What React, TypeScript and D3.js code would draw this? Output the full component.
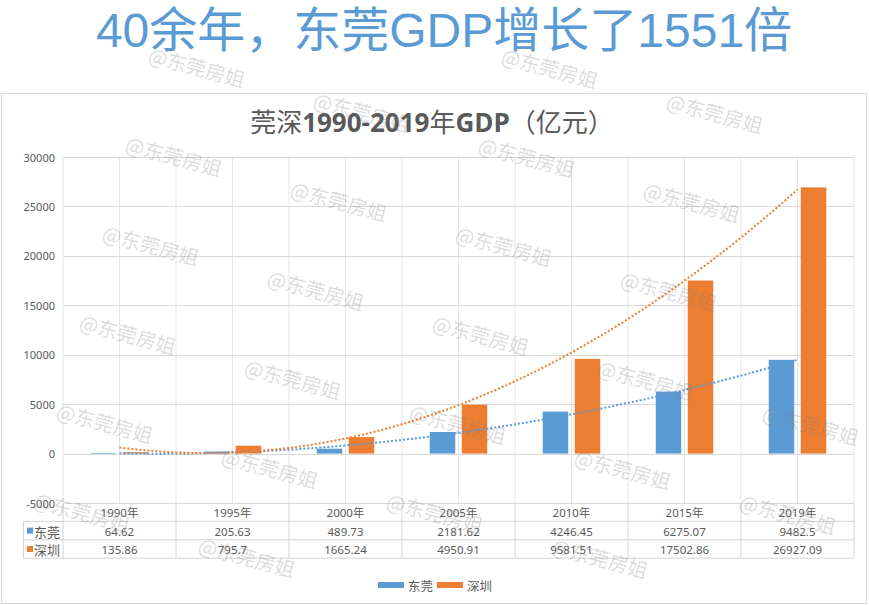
import React from 'react';
import * as d3 from 'd3';

const years = ['1990年', '1995年', '2000年', '2005年', '2010年', '2015年', '2019年'];
const dongguan = [64.62, 205.63, 489.73, 2181.62, 4246.45, 6275.07, 9482.5];
const shenzhen = [135.86, 795.7, 1665.24, 4950.91, 9581.51, 17502.86, 26927.09];
const dongguanLabels = ['64.62', '205.63', '489.73', '2181.62', '4246.45', '6275.07', '9482.5'];
const shenzhenLabels = ['135.86', '795.7', '1665.24', '4950.91', '9581.51', '17502.86', '26927.09'];
const seriesNames = ['东莞', '深圳'];
const seriesColors = ['#5B9BD5', '#ED7D31'];
const yTickValues = [-5000, 0, 5000, 10000, 15000, 20000, 25000, 30000];
const mainTitle = '40余年，东莞GDP增长了1551倍';
const chartTitleParts = [
  { t: '莞深', bold: false },
  { t: '1990-2019', bold: true },
  { t: '年', bold: false },
  { t: 'GDP', bold: true },
  { t: '（亿元）', bold: false },
];
const watermarkText = '@东莞房姐';

const W = 869;
const H = 605;
const plotLeft = 63;
const plotRight = 854;
const plotTop = 157;
const plotBottom = 503;
const rowH = 18.4;
const tableTop = plotBottom;
const keyLeft = 23;
const barW = 25.5;
const barOffset = 16;
const textColor = '#595959';
const font = "'Noto Sans', 'Noto Sans CJK SC', sans-serif";
const cjk = "'Noto Sans CJK SC', sans-serif";

function quadFit(ys: number[]) {
  const n = ys.length;
  const mean = (n + 1) / 2;
  let S2 = 0, S4 = 0, Sy = 0, Sty = 0, St2y = 0;
  ys.forEach((y, i) => {
    const t = i + 1 - mean;
    S2 += t * t;
    S4 += t * t * t * t;
    Sy += y;
    Sty += t * y;
    St2y += t * t * y;
  });
  const b = Sty / S2;
  const c = (n * St2y - S2 * Sy) / (n * S4 - S2 * S2);
  const a = (Sy - S2 * c) / n;
  return (x: number) => {
    const t = x - mean;
    return a + b * t + c * t * t;
  };
}

export default function App() {
  const x = d3.scaleBand<string>().domain(years).range([plotLeft, plotRight]).padding(0);
  const bw = x.bandwidth();
  const y = d3.scaleLinear().domain([-5000, 30000]).range([plotBottom, plotTop]);
  const center = (i: number) => (x(years[i]) as number) + bw / 2;
  const xIdx = d3.scaleLinear().domain([1, years.length]).range([center(0), center(years.length - 1)]);

  const series = [dongguan, shenzhen];
  const labels = [dongguanLabels, shenzhenLabels];

  const trendPaths = series.map((s) => {
    const f = quadFit(s);
    const pts = d3.range(1, years.length + 0.001, 0.05).map((v) => [xIdx(v), y(f(v))] as [number, number]);
    return d3.line()(pts) as string;
  });

  const vGrid = d3.range(0, years.length * 2 + 1).map((k) => plotLeft + (k * bw) / 2);

  // watermark lattice (only fully visible copies)
  const wmOrigin = [150, 45];
  const v1 = [165, 45];
  const v2 = [-23, 89];
  const wms: [number, number][] = [];
  for (let i = -4; i <= 7; i++) {
    for (let j = -3; j <= 9; j++) {
      const px = wmOrigin[0] + i * v1[0] + j * v2[0];
      const py = wmOrigin[1] + i * v1[1] + j * v2[1];
      if (px - 3 >= 0 && px + 100 <= W && py >= 6 && py + 48 <= H) wms.push([px, py]);
    }
  }

  return (
    <svg width={W} height={H} style={{ position: 'absolute', left: 0, top: 0, background: '#fff' }}>
      <rect x={0} y={0} width={W} height={H} fill="#fff" />
      {/* main title */}
      <text
        x={444}
        y={47}
        textAnchor="middle"
        fill="#5B9BD5"
        fontSize={48}
        fontFamily="'Liberation Sans', 'Noto Sans CJK SC', sans-serif"
      >
        {mainTitle}
      </text>
      {/* chart frame */}
      <rect x={1.5} y={93.5} width={865} height={510} fill="#fff" stroke="#d9d9d9" strokeWidth={1} />
      {/* chart title */}
      <text x={432} y={132} textAnchor="middle" fill={textColor} fontSize={26}>
        {chartTitleParts.map((p, i) => (
          <tspan
            key={i}
            fontWeight={p.bold ? 700 : 400}
            fontFamily={p.bold ? "'Open Sans', 'Noto Sans', sans-serif" : cjk}
          >
            {p.t}
          </tspan>
        ))}
      </text>
      {/* vertical gridlines */}
      {vGrid.map((gx, i) => (
        <line key={'vg' + i} x1={gx} x2={gx} y1={plotTop} y2={plotBottom} stroke="#e6e6e6" strokeWidth={1} />
      ))}
      {/* horizontal gridlines */}
      {yTickValues.map((t) => (
        <line key={'hg' + t} x1={plotLeft} x2={plotRight} y1={Math.round(y(t)) + 0.5} y2={Math.round(y(t)) + 0.5} stroke="#d9d9d9" strokeWidth={1} />
      ))}
      {/* y labels */}
      {yTickValues.map((t) => (
        <text key={'yl' + t} x={55} y={y(t)} textAnchor="end" dominantBaseline="central" fill={textColor} fontSize={11} fontFamily={font}>
          {t}
        </text>
      ))}
      {/* bars */}
      {series.map((s, si) =>
        s.map((v, i) => {
          const cx = center(i) + (si === 0 ? -barOffset : barOffset);
          const y0 = y(0);
          const y1 = y(v);
          return (
            <rect key={'b' + si + '-' + i} x={cx - barW / 2} y={Math.min(y0, y1)} width={barW} height={Math.abs(y0 - y1)} fill={seriesColors[si]} />
          );
        })
      )}
      {/* trendlines */}
      {trendPaths.map((d, si) => (
        <path key={'tr' + si} d={d} fill="none" stroke={seriesColors[si]} strokeWidth={2} strokeDasharray="2 2" />
      ))}
      {/* data table */}
      <g>
        {[1, 2, 3].map((r) => (
          <line key={'th' + r} x1={keyLeft} x2={plotRight} y1={tableTop + r * rowH} y2={tableTop + r * rowH} stroke="#d4d4d4" strokeWidth={1} />
        ))}
        <line x1={keyLeft + 0.5} x2={keyLeft + 0.5} y1={tableTop + rowH} y2={tableTop + 3 * rowH} stroke="#d4d4d4" strokeWidth={1} />
        {d3.range(0, years.length + 1).map((k) => {
          const gx = plotLeft + k * bw;
          return <line key={'tv' + k} x1={gx} x2={gx} y1={tableTop} y2={tableTop + 3 * rowH} stroke="#d4d4d4" strokeWidth={1} />;
        })}
        {years.map((yr, i) => (
          <text key={'yr' + i} x={center(i)} y={tableTop + rowH / 2 + 0.5} textAnchor="middle" dominantBaseline="central" fill={textColor} fontSize={11.5} fontFamily={font}>
            {yr}
          </text>
        ))}
        {labels.map((ls, si) =>
          ls.map((l, i) => (
            <text key={'tl' + si + i} x={center(i)} y={tableTop + rowH * (si + 1.5) + 0.5} textAnchor="middle" dominantBaseline="central" fill={textColor} fontSize={11.5} fontFamily={font}>
              {l}
            </text>
          ))
        )}
        {seriesNames.map((n, si) => (
          <g key={'tk' + si}>
            <rect x={keyLeft + 4} y={tableTop + rowH * (si + 1.5) - 3} width={6} height={6} fill={seriesColors[si]} />
            <text x={keyLeft + 11} y={tableTop + rowH * (si + 1.5) + 0.5} dominantBaseline="central" fill={textColor} fontSize={13} fontFamily={cjk}>
              {n}
            </text>
          </g>
        ))}
      </g>
      {/* legend */}
      {seriesNames.map((n, si) => {
        const lx = 378 + si * 59;
        return (
          <g key={'lg' + si}>
            <rect x={lx} y={582} width={26} height={6} fill={seriesColors[si]} />
            <text x={lx + 30} y={585.5} dominantBaseline="central" fill={textColor} fontSize={12.5} fontFamily={cjk}>
              {n}
            </text>
          </g>
        );
      })}
      {/* watermarks */}
      {wms.map(([px, py], i) => (
        <text
          key={'wm' + i}
          transform={`translate(${px - 3},${py + 17}) rotate(15)`}
          fill="#808080"
          fillOpacity={0.28}
          fontSize={20}
          fontFamily={cjk}
        >
          {watermarkText}
        </text>
      ))}
    </svg>
  );
}
